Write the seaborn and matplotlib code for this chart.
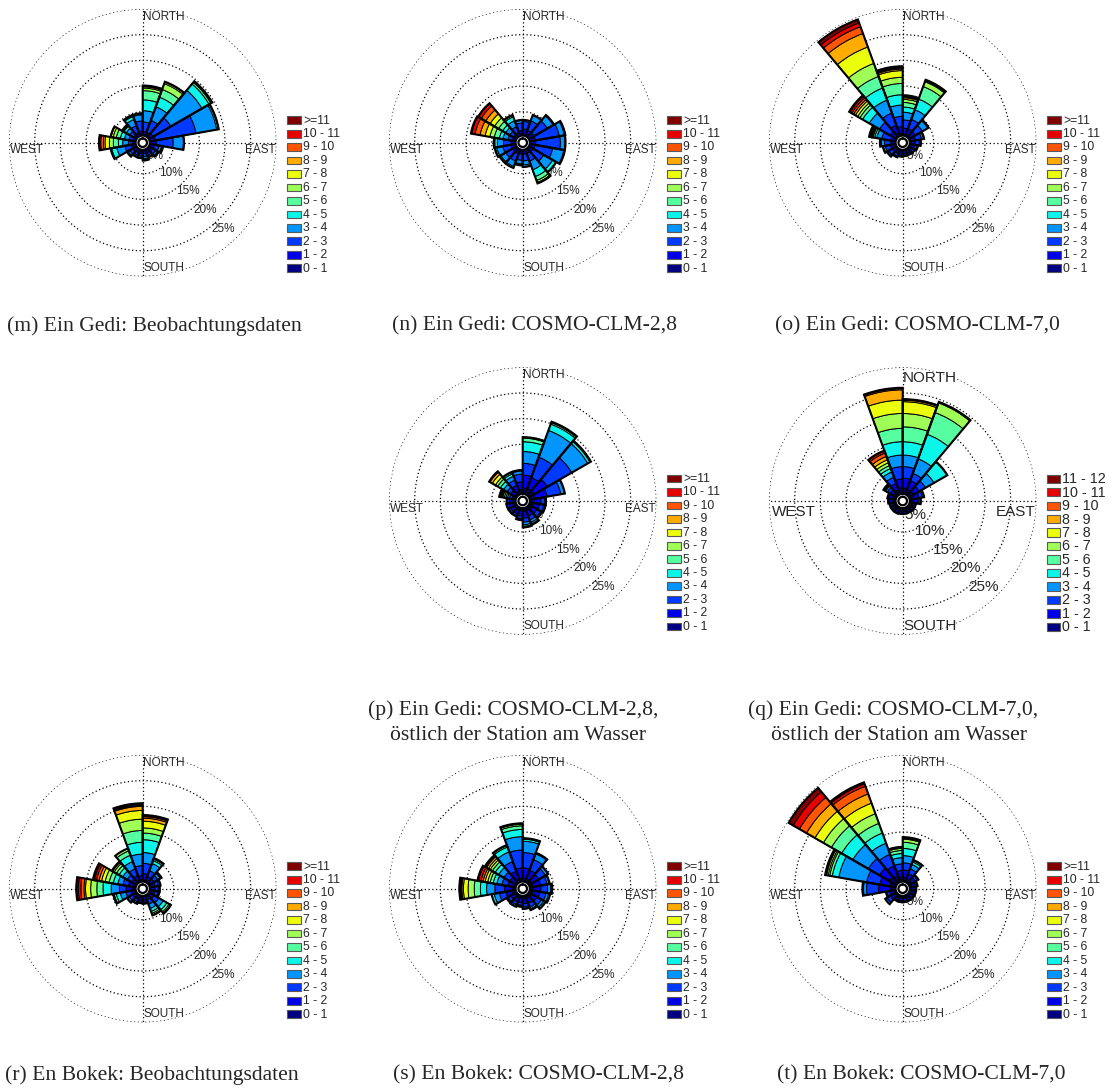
import numpy as np
import matplotlib
matplotlib.use("Agg")
import matplotlib.pyplot as plt
import seaborn as sns
from matplotlib.patches import Rectangle

# ---------------- data (percent frequency per 20-degree sector, speed classes 0-1 ... >=11 m/s)
speed_labels = ["0 - 1", "1 - 2", "2 - 3", "3 - 4", "4 - 5", "5 - 6", "6 - 7",
                "7 - 8", "8 - 9", "9 - 10", "10 - 11", ">=11"]
speed_labels_q = speed_labels[:-1] + ["11 - 12"]
sector_start_deg = list(range(0, 360, 20))
ring_pcts = [5, 10, 15, 20, 25]

m_ein_gedi_obs = [
    [0.3, 0.8, 1.9, 2.2, 2.1, 1.8, 0.5, 0.25, 0.1, 0.05, 0.05, 0.05],
    [0.3, 0.8, 2.5, 2.8, 2.0, 1.6, 1.2, 0.3, 0.1],
    [0.3, 1.0, 4.0, 7.0, 1.6, 0.4, 0.2, 0.1],
    [0.3, 1.2, 8.0, 4.1, 0.3, 0.1],
    [0.3, 1.3, 3.3, 2.0, 0.1],
    [0.3, 1.0, 0.9, 0.5, 0.2, 0.1],
    [0.3, 0.9, 0.7, 0.4, 0.2],
    [0.3, 0.8, 0.5, 0.3, 0.1],
    [0.3, 0.8, 0.6, 0.4, 0.2, 0.1, 0.05],
    [0.3, 0.8, 0.5, 0.3, 0.1],
    [0.3, 0.8, 0.5, 0.3, 0.1],
    [0.3, 0.9, 0.7, 0.4, 0.2],
    [0.3, 0.9, 1.3, 1.6, 1.0, 0.2],
    [0.3, 0.6, 0.85, 1.11, 0.84, 0.98, 0.77, 0.85, 0.32, 0.52, 0.23, 0.1],
    [0.3, 0.6, 0.8, 0.9, 0.8, 0.8, 0.6, 0.4, 0.1],
    [0.3, 0.7, 0.9, 0.8, 0.5, 0.2, 0.1, 0.1],
    [0.3, 0.8, 1.4, 1.3, 0.6, 0.2, 0.1],
    [0.3, 0.9, 2.0, 1.2, 0.2, 0.1],
]
n_ein_gedi_cclm28 = [
    [0.3, 1.3, 1.5, 0.3],
    [0.3, 1.2, 2.0, 1.1, 0.1],
    [0.3, 1.2, 3.0, 1.3, 0.2],
    [0.3, 1.2, 4.7, 1.0, 0.2],
    [0.3, 1.2, 4.8, 0.9, 0.1],
    [0.3, 1.1, 3.5, 2.2, 0.2],
    [0.3, 1.0, 2.4, 2.0, 0.7, 0.1],
    [0.3, 0.9, 1.6, 1.8, 1.4, 0.8, 0.4, 0.2],
    [0.3, 0.9, 1.3, 0.8, 0.3, 0.1],
    [0.3, 0.9, 1.2, 0.7, 0.2, 0.1],
    [0.3, 1.0, 1.5, 1.1, 0.3],
    [0.3, 1.0, 1.5, 1.1, 0.3],
    [0.3, 1.0, 1.6, 1.2, 0.3, 0.1],
    [0.3, 0.9, 1.5, 1.2, 0.5, 0.2],
    [0.3, 0.7, 0.9, 1.0, 0.7, 1.0, 0.85, 0.95, 1.0, 1.0, 0.65, 0.15],
    [0.3, 0.7, 0.9, 0.9, 0.7, 0.9, 0.9, 1.0, 1.0, 1.0, 0.6, 0.1],
    [0.3, 0.8, 1.2, 1.2, 0.8, 0.3, 0.1],
    [0.3, 1.0, 1.5, 0.5, 0.1],
]
o_ein_gedi_cclm70 = [
    [0.6, 1.2, 1.6, 1.5, 1.0, 0.9, 0.6, 0.3, 0.2, 0.1, 0.1, 0.1],
    [0.6, 1.3, 1.9, 2.0, 2.2, 2.6, 1.0, 0.2, 0.1, 0.1],
    [0.6, 1.2, 1.6, 1.2, 0.2],
    [0.5, 1.0, 1.2, 0.4, 0.1],
    [0.5, 0.9, 0.8, 0.3],
    [0.5, 0.8, 0.5, 0.2],
    [0.5, 0.7, 0.4, 0.1],
    [0.5, 0.7, 0.3, 0.1],
    [0.5, 0.7, 0.3, 0.1],
    [0.5, 0.7, 0.4, 0.1],
    [0.5, 0.8, 0.5, 0.2],
    [0.5, 0.8, 0.8, 0.3, 0.1],
    [0.5, 0.9, 1.0, 0.4, 0.1],
    [0.4, 0.9, 1.2, 0.6, 0.2, 0.1],
    [0.4, 0.9, 1.8, 1.0, 0.4, 0.3, 0.2, 0.2, 0.1, 0.1, 0.1, 0.1],
    [0.6, 1.2, 2.4, 2.3, 1.5, 0.6, 0.5, 0.5, 0.4, 0.4, 0.4, 0.2],
    [1.0, 1.6, 2.5, 2.7, 2.5, 2.4, 2.7, 3.4, 2.8, 1.4, 0.8, 0.7],
    [0.8, 1.3, 2.0, 2.2, 2.0, 2.2, 1.2, 1.3, 0.3, 0.2, 0.15, 0.2],
]
p_ein_gedi_cclm28_east = [
    [1.4, 2.6, 2.3, 2.3, 1.9, 0.7, 0.1, 0.05, 0.05],
    [1.5, 2.3, 4.25, 5.55, 1.3, 0.3, 0.1, 0.05, 0.05],
    [1.5, 3.0, 5.5, 3.6, 0.5, 0.1, 0.05, 0.05],
    [1.3, 2.5, 2.7, 0.7, 0.1],
    [1.1, 1.4, 0.8, 0.2],
    [1.0, 1.3, 0.9, 0.3],
    [1.0, 1.2, 0.8, 0.3],
    [1.0, 1.1, 0.8, 0.5, 0.3, 0.2],
    [1.0, 1.3, 0.8, 0.5, 0.3, 0.2],
    [0.9, 1.0, 0.5, 0.2, 0.1],
    [0.9, 0.8, 0.4, 0.1],
    [0.9, 0.8, 0.4, 0.1],
    [0.9, 0.8, 0.4, 0.1],
    [0.8, 0.7, 0.4, 0.2],
    [0.5, 0.6, 0.5, 0.4, 0.3, 0.3, 0.3, 0.2, 0.2, 0.2, 0.1],
    [0.8, 0.9, 0.8, 0.8, 0.7, 0.6, 0.5, 0.7, 0.5, 0.15, 0.05],
    [1.0, 1.2, 1.1, 0.8, 0.5, 0.3, 0.1],
    [1.2, 1.5, 1.5, 0.6, 0.2],
]
q_ein_gedi_cclm70_east = [
    [1.4, 2.0, 2.25, 2.25, 2.6, 2.9, 2.6, 2.3, 0.3, 0.1, 0.05, 0.05],
    [1.4, 1.8, 1.5, 3.0, 5.1, 4.5, 2.0, 0.1, 0.05, 0.05],
    [1.4, 1.3, 1.4, 1.9, 2.9, 0.1],
    [1.2, 1.0, 0.7, 0.3],
    [1.1, 0.9, 0.4, 0.1],
    [1.0, 0.5, 0.1],
    [1.0, 0.5, 0.1],
    [1.0, 0.4, 0.1],
    [1.0, 0.4, 0.1],
    [1.0, 0.4, 0.1],
    [1.0, 0.5, 0.1],
    [1.0, 0.5, 0.1],
    [1.0, 0.5, 0.1],
    [1.0, 0.6, 0.2],
    [1.0, 0.7, 0.3],
    [1.0, 0.8, 0.6, 0.4, 0.2, 0.1, 0.1, 0.05, 0.05],
    [1.3, 1.3, 1.3, 1.1, 0.7, 0.6, 0.6, 0.6, 0.7, 0.7, 0.4, 0.1],
    [1.56, 1.7, 2.4, 2.25, 2.6, 2.6, 2.9, 2.6, 2.0, 0.25, 0.1, 0.05],
]
r_en_bokek_obs = [
    [0.7, 1.2, 2.0, 2.1, 2.5, 1.3, 1.0, 1.3, 0.6, 0.3, 0.2, 0.1],
    [0.6, 0.9, 1.2, 1.5, 0.6, 0.3, 0.1, 0.1],
    [0.6, 0.9, 0.9, 0.5, 0.2, 0.1],
    [0.6, 0.8, 0.7, 0.3, 0.1],
    [0.6, 0.8, 0.6, 0.2, 0.1],
    [0.6, 0.8, 0.6, 0.2, 0.1],
    [0.6, 0.9, 1.1, 1.0, 0.8, 0.5, 0.3, 0.1],
    [0.5, 0.8, 0.9, 0.9, 0.6, 0.4, 0.3, 0.1],
    [0.5, 0.7, 0.4, 0.2, 0.1],
    [0.5, 0.7, 0.4, 0.2],
    [0.5, 0.7, 0.5, 0.3, 0.1],
    [0.5, 0.8, 0.7, 0.4, 0.1],
    [0.5, 0.8, 1.0, 1.1, 0.8, 0.4, 0.15, 0.05],
    [1.0, 1.2, 1.3, 1.6, 1.6, 1.2, 1.2, 1.0, 0.3, 0.6, 0.5, 0.4],
    [0.8, 1.0, 1.1, 1.0, 0.9, 0.8, 0.8, 0.7, 0.5, 0.5, 0.4, 0.3],
    [0.6, 0.9, 1.0, 1.0, 0.8, 0.6, 0.5, 0.3, 0.1, 0.1],
    [0.7, 1.0, 1.4, 1.5, 1.3, 0.9, 0.5],
    [0.65, 0.85, 1.95, 2.25, 2.3, 2.3, 2.2, 1.7, 0.8, 0.2, 0.2, 0.2],
]
s_en_bokek_cclm28 = [
    [1.0, 2.0, 3.0, 2.2, 0.4, 0.1, 0.05, 0.05],
    [1.0, 1.8, 2.2, 1.2, 0.2],
    [1.0, 1.6, 1.5, 0.5, 0.1],
    [1.0, 1.5, 1.3, 0.4, 0.1],
    [1.0, 1.5, 1.3, 0.6, 0.3],
    [1.0, 1.4, 1.2, 0.5, 0.3],
    [1.0, 1.2, 1.0, 0.5, 0.3, 0.1],
    [0.9, 1.1, 0.8, 0.4, 0.2],
    [0.9, 1.0, 0.6, 0.3, 0.1],
    [0.8, 0.9, 0.5, 0.2, 0.1],
    [0.8, 0.9, 0.6, 0.3, 0.1],
    [0.8, 0.9, 0.6, 0.2, 0.1],
    [1.0, 1.3, 1.3, 1.0, 0.5],
    [1.0, 1.5, 1.9, 1.6, 1.2, 1.2, 1.2, 0.9, 0.3, 0.2, 0.1, 0.2],
    [0.8, 1.1, 1.2, 1.0, 0.7, 0.6, 0.5, 0.5, 0.4, 0.4, 0.5, 0.2],
    [0.8, 1.1, 1.3, 1.2, 0.8, 0.6, 0.5, 0.4, 0.4, 0.2, 0.1, 0.1],
    [1.0, 1.6, 2.0, 2.0, 1.0, 0.3, 0.1],
    [1.0, 2.0, 3.5, 2.6, 1.4, 0.7, 0.3, 0.1, 0.05, 0.05],
]
t_en_bokek_cclm70 = [
    [1.2, 1.4, 1.4, 1.4, 1.4, 1.2, 0.6, 0.2, 0.1, 0.05, 0.05],
    [1.0, 1.1, 1.0, 0.9, 0.5, 0.3, 0.1],
    [0.9, 0.9, 0.5, 0.2],
    [0.8, 0.7, 0.3, 0.1],
    [0.8, 0.6, 0.2],
    [0.8, 0.6, 0.2],
    [0.8, 0.6, 0.2],
    [0.8, 0.6, 0.2],
    [0.8, 0.6, 0.2],
    [0.8, 0.6, 0.2],
    [0.8, 0.6, 0.2],
    [0.8, 0.9, 0.8, 0.4],
    [0.8, 0.8, 0.5, 0.2],
    [1.3, 2.4, 2.3, 0.6, 0.1, 0.05, 0.05],
    [1.5, 2.0, 2.6, 5.5, 1.3, 0.5, 0.3, 0.3, 0.2, 0.1],
    [2.0, 2.2, 2.5, 3.5, 2.5, 2.3, 1.8, 1.9, 1.9, 1.6, 1.4, 1.0],
    [1.7, 2.0, 2.4, 2.3, 2.1, 2.0, 2.0, 2.2, 1.9, 1.6, 0.5, 0.3],
    [1.2, 1.3, 1.3, 1.2, 0.8, 0.6, 0.4, 0.2, 0.1],
]

captions = {
    "m": ["(m) Ein Gedi: Beobachtungsdaten"],
    "n": ["(n) Ein Gedi: COSMO-CLM-2,8"],
    "o": ["(o) Ein Gedi: COSMO-CLM-7,0"],
    "p": ["(p) Ein Gedi: COSMO-CLM-2,8,", "östlich der Station am Wasser"],
    "q": ["(q) Ein Gedi: COSMO-CLM-7,0,", "östlich der Station am Wasser"],
    "r": ["(r) En Bokek: Beobachtungsdaten"],
    "s": ["(s) En Bokek: COSMO-CLM-2,8"],
    "t": ["(t) En Bokek: COSMO-CLM-7,0"],
}

# ---------------- style
sns.set_theme(style="white")
plt.rcParams["font.family"] = ["Liberation Sans", "DejaVu Sans"]
SERIF = ["Liberation Serif", "DejaVu Serif"]

W, H = 1118, 1089
fig = plt.figure(figsize=(W / 100, H / 100), dpi=100)
fig.patch.set_facecolor("white")

colors = matplotlib.colormaps["jet"](np.linspace(0, 1, 12))
HOLE = 1.04
RPX = 133.7  # pixel radius of the 25 % ring
DOT = (0, (1.0, 2.0))


def to_table(rows):
    t = np.zeros((len(rows), 12))
    for i, r in enumerate(rows):
        t[i, :len(r)] = r
    return t


def draw_rose(key, rows, cx, cy, labels, fs, lfs, cap_pos):
    ax = fig.add_axes([(cx - RPX) / W, 1 - (cy + RPX) / H, 2 * RPX / W, 2 * RPX / H],
                      projection="polar")
    ax.set_theta_zero_location("N")
    ax.set_theta_direction(-1)
    ax.set_ylim(0, 25 + HOLE)
    ax.axis("off")

    th = np.linspace(0, 2 * np.pi, 361)
    for p in ring_pcts:
        ax.plot(th, np.full_like(th, HOLE + p), color="black", lw=0.9,
                ls=DOT, zorder=1)
    for a in [0, np.pi / 2, np.pi, 3 * np.pi / 2]:
        ax.plot([a, a], [0, 25 + HOLE], color="black", lw=0.9, ls=DOT, zorder=1)

    # ring labels
    for p in ring_pcts:
        off = 2.4 if p == 5 else 3.1
        ax.text(np.deg2rad(137), HOLE + p - off, f"{p}%", ha="center", va="center",
                fontsize=fs, zorder=2)

    # cardinal labels
    big = fs > 9
    ny = 0.5 + (123 if big else 126) / (2 * RPX)
    sy = 0.5 - 125.3 / (2 * RPX)
    wy = 0.5 - (10.7 if big else 7.7) / (2 * RPX)
    ax.text(0.502, ny, "NORTH", transform=ax.transAxes, ha="left", va="center",
            fontsize=fs, zorder=2)
    ax.text(0.502, sy, "SOUTH", transform=ax.transAxes, ha="left", va="center",
            fontsize=fs, zorder=2)
    ax.text(0.004 if not big else 0.012, wy, "WEST", transform=ax.transAxes,
            ha="left", va="center", fontsize=fs, zorder=2)
    ax.text(0.998, wy, "EAST", transform=ax.transAxes, ha="right", va="center",
            fontsize=fs, zorder=2)

    table = to_table(rows)
    theta = np.deg2rad(sector_start_deg)
    width = np.deg2rad(20)
    cum = np.zeros(len(theta))
    for k in range(12):
        h = table[:, k]
        mask = h > 0
        ax.bar(theta[mask], h[mask], width=width, bottom=HOLE + cum[mask],
               align="edge", color=colors[k], edgecolor="black", linewidth=0.7,
               zorder=3)
        cum += h
    ax.bar(theta, cum, width=width, bottom=HOLE, align="edge", fill=False,
           edgecolor="black", linewidth=1.5, zorder=4)

    ax.fill(th, np.full_like(th, HOLE), color="white", zorder=5)
    ax.plot(th, np.full_like(th, HOLE * 0.8), color="black", lw=1.6, zorder=6)

    # legend
    lx = cx + 144.5
    ly = cy - 26.3
    step = 13.45
    pw, ph = (12.5, 8.3) if big else (13.5, 7.7)
    for i, lab in enumerate(labels[::-1]):
        col = colors[11 - i]
        top = ly + i * step
        fig.add_artist(Rectangle((lx / W, 1 - (top + ph) / H), pw / W, ph / H,
                                 transform=fig.transFigure, facecolor=col,
                                 edgecolor="0.35", linewidth=0.8))
        fig.text((lx + pw + 2.3) / W, 1 - (top + ph / 2 + 0.3) / H, lab,
                 ha="left", va="center", fontsize=lfs)

    # caption
    lines = captions[key]
    (x1, y1), rest = cap_pos[0], cap_pos[1:]
    fig.text(x1 / W, 1 - y1 / H, lines[0], ha="left", va="center",
             fontsize=15.6, family=SERIF)
    for (x2, y2), ln in zip(rest, lines[1:]):
        fig.text(x2 / W, 1 - y2 / H, ln, ha="left", va="center",
                 fontsize=15.6, family=SERIF)


FS = 8.5
LFS = 8.7
draw_rose("m", m_ein_gedi_obs, 142.7, 142.7, speed_labels, FS, LFS, [(7, 326)])
draw_rose("n", n_ein_gedi_cclm28, 522.7, 142.7, speed_labels, FS, LFS, [(392, 326)])
draw_rose("o", o_ein_gedi_cclm70, 902.7, 142.7, speed_labels, FS, LFS, [(775, 326)])
draw_rose("p", p_ein_gedi_cclm28_east, 522.7, 501, speed_labels, FS, LFS,
          [(368, 710), (390, 736)])
draw_rose("q", q_ein_gedi_cclm70_east, 902.7, 501, speed_labels_q, 11.0, 10.3,
          [(748, 710), (771, 736)])
draw_rose("r", r_en_bokek_obs, 142.7, 888.7, speed_labels, FS, LFS, [(5, 1075)])
draw_rose("s", s_en_bokek_cclm28, 522.7, 888.7, speed_labels, FS, LFS, [(393, 1075)])
draw_rose("t", t_en_bokek_cclm70, 902.7, 888.7, speed_labels, FS, LFS, [(777, 1075)])

fig.savefig("out.png", dpi=100, facecolor="white")
